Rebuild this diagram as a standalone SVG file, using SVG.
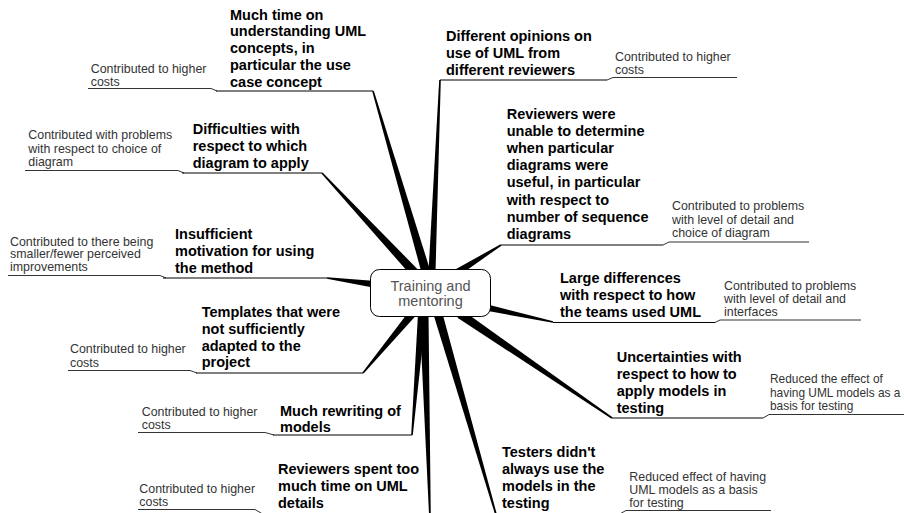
<svg xmlns="http://www.w3.org/2000/svg" width="904" height="513" viewBox="0 0 904 513">
<style>
.n{font-family:"Liberation Sans",Arial,sans-serif;font-weight:bold;font-size:14.5px;fill:#000}
.l{font-family:"Liberation Sans",Arial,sans-serif;font-size:12.4px;fill:#333}
.c{font-family:"Liberation Sans",Arial,sans-serif;font-size:14.5px;fill:#555;text-anchor:middle}
.ul{stroke:#000;stroke-width:1;fill:none}
.lf{stroke:#333;stroke-width:1;fill:none}
.br{fill:#000;stroke:none}
</style>
<rect width="904" height="513" fill="#fff"/>
<g id="connectors">
<polygon class="br" points="430.3,270.7 373.8,90.8 372.2,91.2 421.7,273.3"/>
<polygon class="br" points="435.5,272.2 440.8,80 439.2,80 428.5,271.9"/>
<polygon class="br" points="417.3,268.9 322.6,172.5 321.4,173.5 410.7,275.1"/>
<polygon class="br" points="459.9,275 501.4,245.7 500.6,244.3 456.1,269"/>
<polygon class="br" points="372.4,280.8 327.1,277.2 326.9,278.8 371.6,287.2"/>
<polygon class="br" points="408.9,311.4 362.4,372.5 363.6,373.5 415.1,316.6"/>
<polygon class="br" points="418,313.7 411.2,434.9 412.8,435.1 426,314.3"/>
<polygon class="br" points="419.5,314.1 429.2,518 430.8,518 428.5,313.9"/>
<polygon class="br" points="433.7,315.3 496.2,518.2 497.8,517.8 442.3,312.8"/>
<polygon class="br" points="485.3,310.6 552.8,322.8 553.2,321.2 486.7,304.2"/>
<polygon class="br" points="457.5,317.7 611.5,418.7 612.5,417.3 462.5,310.3"/>
<polyline class="lf" points="88,88.5 211,88.5 217,91"/>
<polyline class="lf" points="607,80 613,77.5 737,77.5"/>
<polyline class="lf" points="25,170.5 178,170.5 184,173"/>
<polyline class="lf" points="663,245 669,242 809,242"/>
<polyline class="lf" points="8,275.5 160,275.5 166,278"/>
<polyline class="lf" points="68,370.5 190,370.5 197,373"/>
<polyline class="lf" points="138,432.5 265,432.5 274,435"/>
<polyline class="lf" points="138,509.5 255,509.5 266,516"/>
<polyline class="lf" points="616,516 626,510.5 771,510.5"/>
<polyline class="lf" points="715,322.5 720,320 861,320"/>
<polyline class="lf" points="763,418 769,414.5 904,414.5"/>
</g>
<g id="center">
<rect x="370.5" y="269.5" width="120" height="47" rx="9" fill="#fff" stroke="#000" stroke-width="1"/>
<text class="c"><tspan x="430.5" y="290.5">Training and</tspan><tspan x="430.5" y="306">mentoring</tspan></text>
</g>
<g id="n1">
<line class="ul" x1="216" y1="91" x2="373" y2="91"/>
<text class="n"><tspan x="230" y="19.5">Much time on</tspan><tspan x="230" y="36.3">understanding UML</tspan><tspan x="230" y="53.1">concepts, in</tspan><tspan x="230" y="69.9">particular the use</tspan><tspan x="230" y="86.7">case concept</tspan></text>
</g>
<g id="n2">
<line class="ul" x1="440" y1="80" x2="607" y2="80"/>
<text class="n"><tspan x="446" y="41">Different opinions on</tspan><tspan x="446" y="58">use of UML from</tspan><tspan x="446" y="75">different reviewers</tspan></text>
</g>
<g id="n3">
<line class="ul" x1="182" y1="173" x2="322" y2="173"/>
<text class="n"><tspan x="192.7" y="133.5">Difficulties with</tspan><tspan x="192.7" y="150.5">respect to which</tspan><tspan x="192.7" y="167.5">diagram to apply</tspan></text>
</g>
<g id="n4">
<line class="ul" x1="501" y1="245" x2="663" y2="245"/>
<text class="n"><tspan x="506.7" y="119">Reviewers were</tspan><tspan x="506.7" y="136.1">unable to determine</tspan><tspan x="506.7" y="153.2">when particular</tspan><tspan x="506.7" y="170.3">diagrams were</tspan><tspan x="506.7" y="187.4">useful, in particular</tspan><tspan x="506.7" y="204.5">with respect to</tspan><tspan x="506.7" y="221.6">number of sequence</tspan><tspan x="506.7" y="238.7">diagrams</tspan></text>
</g>
<g id="n5">
<line class="ul" x1="163" y1="278" x2="327" y2="278"/>
<text class="n"><tspan x="175" y="239.3">Insufficient</tspan><tspan x="175" y="256.3">motivation for using</tspan><tspan x="175" y="273.3">the method</tspan></text>
</g>
<g id="n6">
<line class="ul" x1="196" y1="373" x2="363" y2="373"/>
<text class="n"><tspan x="201.7" y="316.7">Templates that were</tspan><tspan x="201.7" y="333.6">not sufficiently</tspan><tspan x="201.7" y="350.5">adapted to the</tspan><tspan x="201.7" y="367.4">project</tspan></text>
</g>
<g id="n7">
<line class="ul" x1="273" y1="435" x2="412" y2="435"/>
<text class="n"><tspan x="280" y="415.5">Much rewriting of</tspan><tspan x="280" y="432">models</tspan></text>
</g>
<g id="n8">
<line class="ul" x1="266" y1="516" x2="430" y2="516"/>
<text class="n"><tspan x="278" y="474">Reviewers spent too</tspan><tspan x="278" y="491">much time on UML</tspan><tspan x="278" y="508">details</tspan></text>
</g>
<g id="n9">
<line class="ul" x1="497" y1="516" x2="616" y2="516"/>
<text class="n"><tspan x="502" y="457">Testers didn't</tspan><tspan x="502" y="474">always use the</tspan><tspan x="502" y="491">models in the</tspan><tspan x="502" y="508">testing</tspan></text>
</g>
<g id="n10">
<line class="ul" x1="553" y1="322.5" x2="715" y2="322.5"/>
<text class="n"><tspan x="560" y="283.3">Large differences</tspan><tspan x="560" y="300">with respect to how</tspan><tspan x="560" y="316.7">the teams used UML</tspan></text>
</g>
<g id="n11">
<line class="ul" x1="612" y1="418" x2="763" y2="418"/>
<text class="n"><tspan x="616.7" y="361.7">Uncertainties with</tspan><tspan x="616.7" y="378.7">respect to how to</tspan><tspan x="616.7" y="395.7">apply models in</tspan><tspan x="616.7" y="412.7">testing</tspan></text>
</g>
<g id="leaf1"><text class="l"><tspan x="90.7" y="72.5">Contributed to higher</tspan><tspan x="90.7" y="86">costs</tspan></text></g>
<g id="leaf2"><text class="l"><tspan x="615" y="60.5">Contributed to higher</tspan><tspan x="615" y="74">costs</tspan></text></g>
<g id="leaf3"><text class="l"><tspan x="28.3" y="139">Contributed with problems</tspan><tspan x="28.3" y="152.5">with respect to choice of</tspan><tspan x="28.3" y="166">diagram</tspan></text></g>
<g id="leaf4"><text class="l"><tspan x="672" y="210">Contributed to problems</tspan><tspan x="672" y="223.5">with level of detail and</tspan><tspan x="672" y="237">choice of diagram</tspan></text></g>
<g id="leaf5"><text class="l"><tspan x="10" y="245.5">Contributed to there being</tspan><tspan x="10" y="258.3">smaller/fewer perceived</tspan><tspan x="10" y="271">improvements</tspan></text></g>
<g id="leaf6"><text class="l"><tspan x="70" y="353.3">Contributed to higher</tspan><tspan x="70" y="366.6">costs</tspan></text></g>
<g id="leaf7"><text class="l"><tspan x="141.7" y="415.5">Contributed to higher</tspan><tspan x="141.7" y="428.7">costs</tspan></text></g>
<g id="leaf8"><text class="l"><tspan x="139.3" y="492.5">Contributed to higher</tspan><tspan x="139.3" y="506">costs</tspan></text></g>
<g id="leaf9"><text class="l"><tspan x="629.3" y="480.5">Reduced effect of having</tspan><tspan x="629.3" y="493.8">UML models as a basis</tspan><tspan x="629.3" y="507">for testing</tspan></text></g>
<g id="leaf10"><text class="l"><tspan x="724" y="289.5">Contributed to problems</tspan><tspan x="724" y="302.8">with level of detail and</tspan><tspan x="724" y="316">interfaces</tspan></text></g>
<g id="leaf11"><text class="l" style="font-size:11.9px"><tspan x="770" y="383">Reduced the effect of</tspan><tspan x="770" y="396.5">having UML models as a</tspan><tspan x="770" y="410">basis for testing</tspan></text></g>
</svg>
